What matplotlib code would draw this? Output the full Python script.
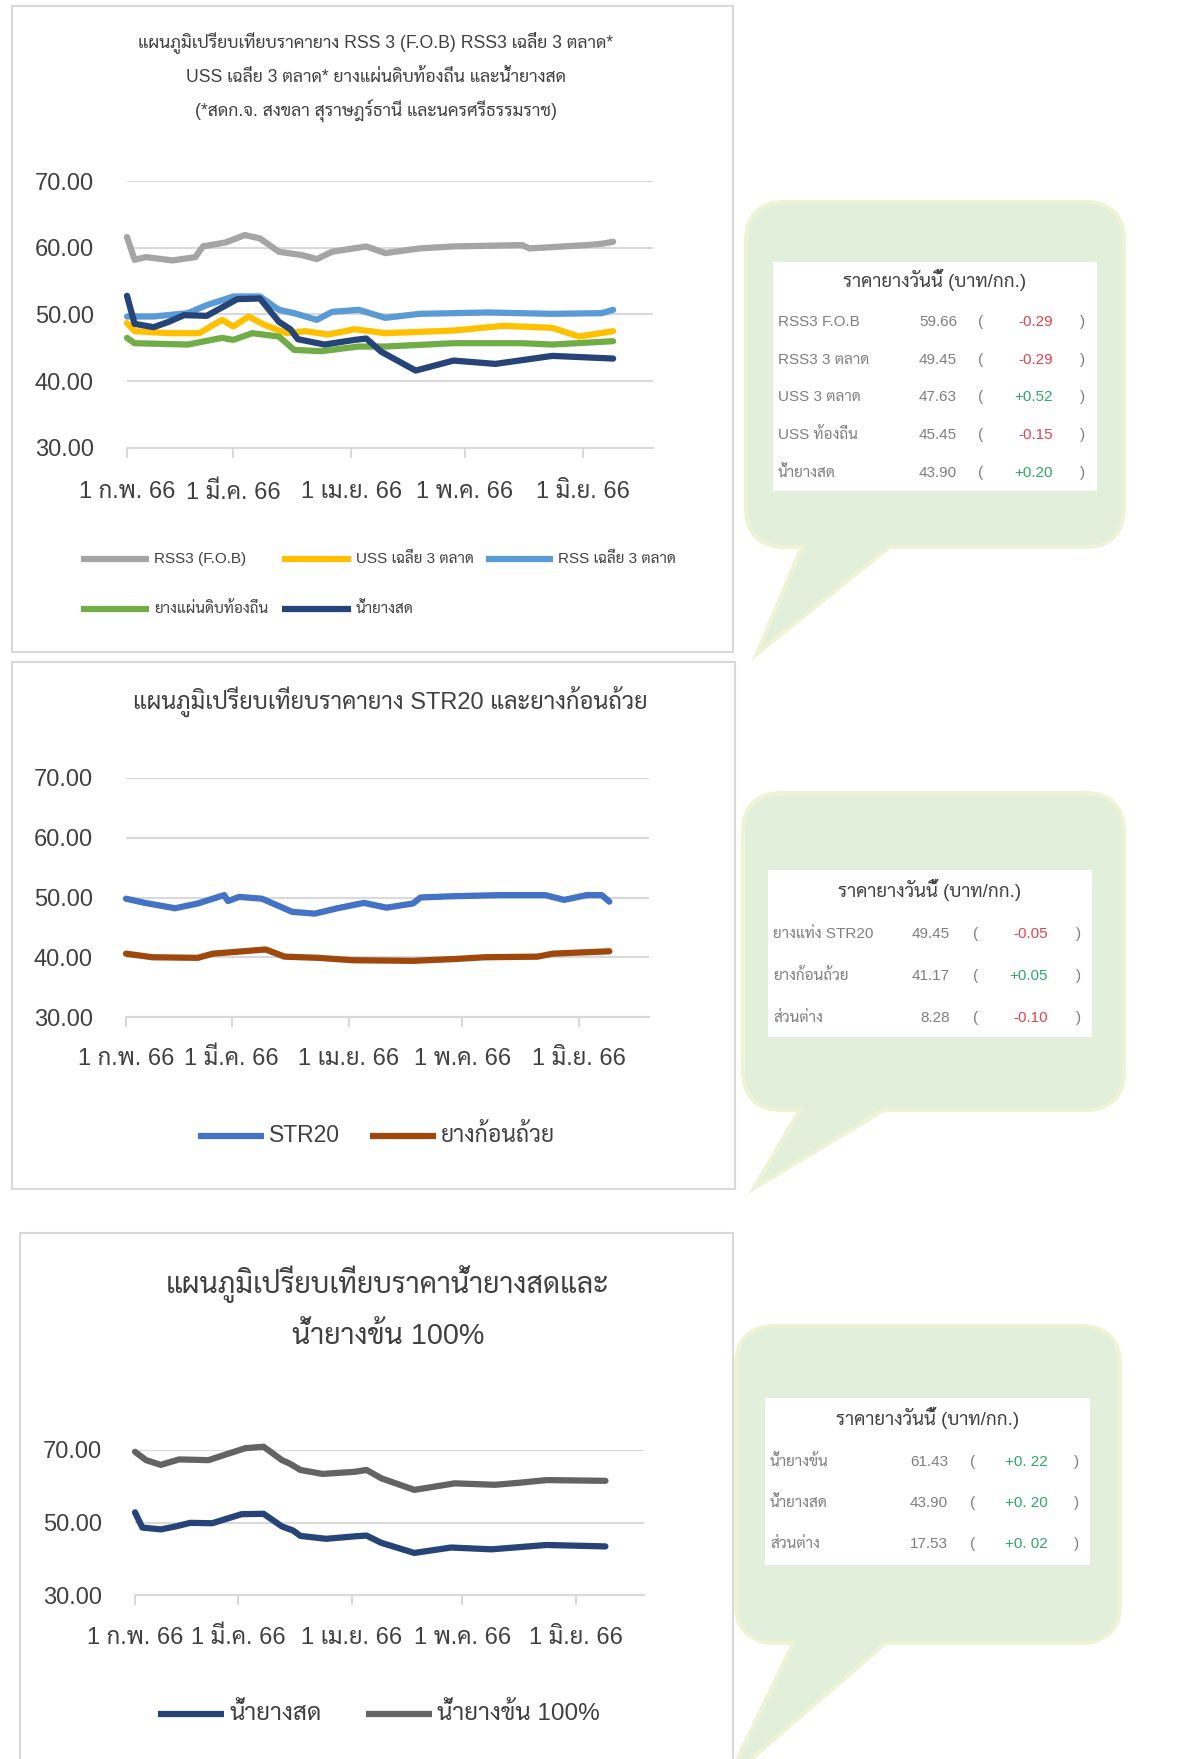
import numpy as np
import matplotlib
matplotlib.use('Agg')
import matplotlib.pyplot as plt
from matplotlib import font_manager
from matplotlib.ft2font import FT2Font
from matplotlib.patches import FancyBboxPatch, Polygon, Rectangle
from matplotlib.ticker import FuncFormatter

W, H = 1200, 1759

# ---- data (days after 1 Feb 2023) ----
x_ticks = [0, 28, 59, 89, 120]
x_labels = ['1 ก.พ. 66', '1 มี.ค. 66', '1 เม.ย. 66', '1 พ.ค. 66', '1 มิ.ย. 66']

rss3_fob_days = [0, 2, 5, 12, 18, 20, 26, 31, 35, 40, 46, 50, 54, 63, 68, 77, 86, 104, 106, 121, 125, 128]
rss3_fob = [61.6, 58.2, 58.6, 58.1, 58.6, 60.2, 60.8, 61.9, 61.4, 59.4, 58.9, 58.3, 59.4, 60.2, 59.2,
            59.9, 60.2, 60.4, 59.9, 60.4, 60.6, 60.9]

uss3_days = [0, 2, 11, 19, 25, 28, 32, 36, 42, 47, 53, 60, 68, 86, 99, 112, 119, 128]
uss3 = [48.7, 47.5, 47.2, 47.2, 49.2, 48.2, 49.7, 48.5, 47.2, 47.5, 47.0, 47.8, 47.2, 47.6, 48.3,
        48.0, 46.7, 47.5]

rss_avg_days = [0, 7, 16, 21, 28, 35, 40, 44, 50, 54, 61, 68, 77, 95, 112, 125, 128]
rss_avg = [49.7, 49.7, 50.2, 51.4, 52.7, 52.7, 50.7, 50.2, 49.2, 50.4, 50.7, 49.5, 50.1, 50.3, 50.1,
           50.2, 50.7]

uss_local_days = [0, 2, 16, 25, 28, 33, 40, 44, 51, 61, 68, 86, 104, 112, 128]
uss_local = [46.5, 45.7, 45.5, 46.5, 46.2, 47.2, 46.7, 44.7, 44.5, 45.2, 45.2, 45.7, 45.7, 45.5, 46.0]

latex_days = [0, 2, 7, 11, 15, 21, 29, 35, 40, 43, 45, 52, 60, 63, 67, 76, 86, 97, 112, 128]
latex = [52.8, 48.6, 48.1, 48.9, 49.9, 49.8, 52.3, 52.4, 48.9, 47.8, 46.3, 45.5, 46.2, 46.4, 44.4,
         41.6, 43.1, 42.6, 43.8, 43.4]

str20_days = [0, 5, 13, 19, 26, 27, 30, 36, 44, 50, 56, 63, 69, 76, 78, 86, 99, 111, 116, 122, 126, 128]
str20 = [49.8, 49.1, 48.2, 49.0, 50.4, 49.4, 50.1, 49.8, 47.6, 47.3, 48.2, 49.1, 48.3, 49.0, 50.0,
         50.2, 50.4, 50.4, 49.6, 50.4, 50.4, 49.3]

cup_days = [0, 7, 19, 23, 29, 37, 42, 51, 60, 76, 87, 95, 109, 113, 128]
cup = [40.6, 40.0, 39.9, 40.6, 40.9, 41.3, 40.1, 39.9, 39.5, 39.4, 39.7, 40.0, 40.1, 40.6, 41.0]

conc_days = [0, 3, 7, 12, 20, 23, 30, 35, 40, 42, 45, 51, 60, 63, 67, 76, 87, 98, 105, 112, 128]
conc = [69.5, 67.2, 65.9, 67.4, 67.2, 68.2, 70.5, 70.9, 67.2, 66.3, 64.5, 63.4, 64.0, 64.5, 62.2,
        59.0, 60.8, 60.4, 61.0, 61.7, 61.5]

table1_names = ['RSS3 F.O.B', 'RSS3 3 ตลาด', 'USS 3 ตลาด', 'USS ท้องถิ่น', 'น้ำยางสด']
table1_prices = ['59.66', '49.45', '47.63', '45.45', '43.90']
table1_changes = ['-0.29', '-0.29', '+0.52', '-0.15', '+0.20']

table2_names = ['ยางแท่ง STR20', 'ยางก้อนถ้วย', 'ส่วนต่าง']
table2_prices = ['49.45', '41.17', '8.28']
table2_changes = ['-0.05', '+0.05', '-0.10']

table3_names = ['น้ำยางข้น', 'น้ำยางสด', 'ส่วนต่าง']
table3_prices = ['61.43', '43.90', '17.53']
table3_changes = ['+0. 22', '+0. 20', '+0. 02']

# ---- fonts: need one that has Thai glyphs ----
found = []
for f in font_manager.fontManager.ttflist:
    try:
        cmap = FT2Font(f.fname).get_charmap()
    except Exception:
        continue
    if 0x0E01 in cmap and 0x0E49 in cmap:
        found.append(f.name)
found = sorted(set(found))
thai = None
for pref in ['Sarabun', 'Noto Sans Thai Looped', 'Noto Sans Thai', 'Loma', 'Garuda', 'K2D', 'Krub',
             'Anuphan']:
    if pref in found:
        thai = pref
        break
if thai is None and found:
    thai = found[0]
fams = ['Liberation Sans'] + ([thai] if thai else []) + ['DejaVu Sans']
plt.rcParams['font.family'] = fams

GRID = '#D9D9D9'
TXT = '#404040'


def box(x0, y0, x1, y1):
    return [x0 / W, 1 - y1 / H, (x1 - x0) / W, (y1 - y0) / H]


fig = plt.figure(figsize=(W / 100, H / 100), dpi=100)
bg = fig.add_axes([0, 0, 1, 1], zorder=-5)
bg.set_xlim(0, W)
bg.set_ylim(H, 0)
bg.axis('off')

# panel frames
for (x0, y0, x1, y1) in [(12, 6, 733, 652), (12, 662, 735, 1189), (20, 1233, 733, 1790)]:
    bg.add_patch(Rectangle((x0, y0), x1 - x0, y1 - y0, fc='white', ec=GRID, lw=1.5))


def style_axes(ax, yticks, xpad, ypad):
    ax.set_xlim(0, 138.5)
    ax.set_ylim(30, 70)
    ax.set_yticks(yticks)
    ax.yaxis.set_major_formatter(FuncFormatter(lambda v, p: f'{v:.2f}'))
    ax.set_xticks(x_ticks)
    ax.set_xticklabels(x_labels)
    ax.set_facecolor('none')
    ax.grid(axis='y', color=GRID, lw=1.5)
    ax.set_axisbelow(True)
    for s in ['top', 'right', 'left']:
        ax.spines[s].set_visible(False)
    ax.spines['bottom'].set_color(GRID)
    ax.spines['bottom'].set_linewidth(1.5)
    ax.tick_params(axis='y', length=0, pad=ypad, labelsize=17, labelcolor=TXT)
    ax.tick_params(axis='x', length=7, width=1.5, color=GRID, pad=xpad, labelsize=17, labelcolor=TXT)


def legend_item(x0, x1, y, color, label, size):
    bg.plot([x0, x1], [y, y], color=color, lw=4.5, solid_capstyle='butt')
    bg.text(x1 + 5, y, label, fontsize=size, color=TXT, va='center', ha='left')


# ---- panel 1 ----
ax1 = fig.add_axes(box(127, 181, 653, 448))
style_axes(ax1, [30, 40, 50, 60, 70], 17, 24)
series1 = [
    (rss3_fob_days, rss3_fob, '#A5A5A5', 'RSS3 (F.O.B)'),
    (uss3_days, uss3, '#FFC000', 'USS เฉลี่ย 3 ตลาด'),
    (rss_avg_days, rss_avg, '#5B9BD5', 'RSS เฉลี่ย 3 ตลาด'),
    (uss_local_days, uss_local, '#70AD47', 'ยางแผ่นดิบท้องถิ่น'),
    (latex_days, latex, '#264478', 'น้ำยางสด'),
]
for d, v, c, lab in series1:
    ax1.plot(d, v, color=c, lw=4.5, solid_joinstyle='round', solid_capstyle='round', clip_on=False)

t1 = ['แผนภูมิเปรียบเทียบราคายาง RSS 3 (F.O.B) RSS3 เฉลี่ย 3 ตลาด*',
      'USS เฉลี่ย 3 ตลาด* ยางแผ่นดิบท้องถิ่น และน้ำยางสด',
      '(*สดก.จ. สงขลา สุราษฎร์ธานี และนครศรีธรรมราช)']
for yy, t in zip([42, 77, 111], t1):
    bg.text(376, yy, t, fontsize=12.7, color=TXT, ha='center', va='center')

leg_pos = [(81, 149, 559), (282, 351, 559), (486, 553, 559), (81, 149, 609), (282, 351, 609)]
for (x0, x1, yy), (d, v, c, lab) in zip(leg_pos, series1):
    legend_item(x0, x1, yy, c, lab, 11)

# ---- panel 2 ----
ax2 = fig.add_axes(box(126, 778, 649, 1017))
style_axes(ax2, [30, 40, 50, 60, 70], 15, 24)
series2 = [
    (str20_days, str20, '#4472C4', 'STR20'),
    (cup_days, cup, '#9E480E', 'ยางก้อนถ้วย'),
]
for d, v, c, lab in series2:
    ax2.plot(d, v, color=c, lw=4.5, solid_joinstyle='round', solid_capstyle='round', clip_on=False)
bg.text(390, 701, 'แผนภูมิเปรียบเทียบราคายาง STR20 และยางก้อนถ้วย', fontsize=17, color=TXT,
        ha='center', va='center')
for (x0, x1), (d, v, c, lab) in zip([(198, 264), (370, 436)], series2):
    legend_item(x0, x1, 1136, c, lab, 16.5)

# ---- panel 3 ----
ax3 = fig.add_axes(box(135, 1450, 644, 1595))
style_axes(ax3, [30, 50, 70], 16, 24)
series3 = [
    (latex_days, latex, '#264478', 'น้ำยางสด'),
    (conc_days, conc, '#636363', 'น้ำยางข้น 100%'),
]
for d, v, c, lab in series3:
    ax3.plot(d, v, color=c, lw=4.5, solid_joinstyle='round', solid_capstyle='round', clip_on=False)
bg.text(388, 1284, 'แผนภูมิเปรียบเทียบราคาน้ำยางสดและ', fontsize=20.7, color=TXT, ha='center', va='center')
bg.text(388, 1336, 'น้ำยางข้น 100%', fontsize=20.7, color=TXT, ha='center', va='center')
for (x0, x1), (d, v, c, lab) in zip([(158, 224), (366, 432)], series3):
    legend_item(x0, x1, 1714, c, lab, 17.5)


# ---- callout bubbles with price tables ----
def bubble(x0, y0, x1, y1, tail):
    glow = '#EEF3D6'
    fill = '#E2EFDA'
    r = 38
    for ec, lw in [(glow, 6), ('none', 0)]:
        bg.add_patch(FancyBboxPatch((x0 + r, y0 + r), x1 - x0 - 2 * r, y1 - y0 - 2 * r,
                                    boxstyle=f'round,pad={r}', fc=fill, ec=ec, lw=lw))
        bg.add_patch(Polygon(tail, closed=True, fc=fill, ec=ec, lw=lw))


def table(x0, y0, x1, y1, title_y, rows_y, names, prices, changes, cols):
    bg.add_patch(Rectangle((x0, y0), x1 - x0, y1 - y0, fc='white', ec='none'))
    bg.text((x0 + x1) / 2, title_y, 'ราคายางวันนี้ (บาท/กก.)', fontsize=13.5, color=TXT,
            ha='center', va='center')
    for yy, n, p, c in zip(rows_y, names, prices, changes):
        col = '#E0424F' if c.startswith('-') else '#2EA86A'
        bg.text(cols[0], yy, n, fontsize=11, color='#7F7F7F', ha='left', va='center')
        bg.text(cols[1], yy, p, fontsize=11, color='#7F7F7F', ha='right', va='center')
        bg.text(cols[2], yy, '(', fontsize=11, color='#7F7F7F', ha='center', va='center')
        bg.text(cols[3], yy, c, fontsize=11, color=col, ha='right', va='center')
        bg.text(cols[4], yy, ')', fontsize=11, color='#7F7F7F', ha='center', va='center')


bubble(748, 204, 1122, 545, [(808, 538), (762, 647), (897, 538)])
table(773, 262, 1097, 491, 280, [322, 360, 397, 435, 473],
      table1_names, table1_prices, table1_changes, [778, 957, 981, 1053, 1083])

bubble(745, 795, 1122, 1108, [(807, 1102), (760, 1182), (893, 1102)])
table(768, 870, 1092, 1037, 890, [934, 976, 1018],
      table2_names, table2_prices, table2_changes, [773, 950, 976, 1048, 1079])

bubble(738, 1328, 1118, 1641, [(800, 1634), (734, 1771), (893, 1634)])
table(765, 1398, 1090, 1565, 1418, [1462, 1503, 1544],
      table3_names, table3_prices, table3_changes, [770, 948, 973, 1048, 1077])

fig.savefig('out.png', dpi=100)
